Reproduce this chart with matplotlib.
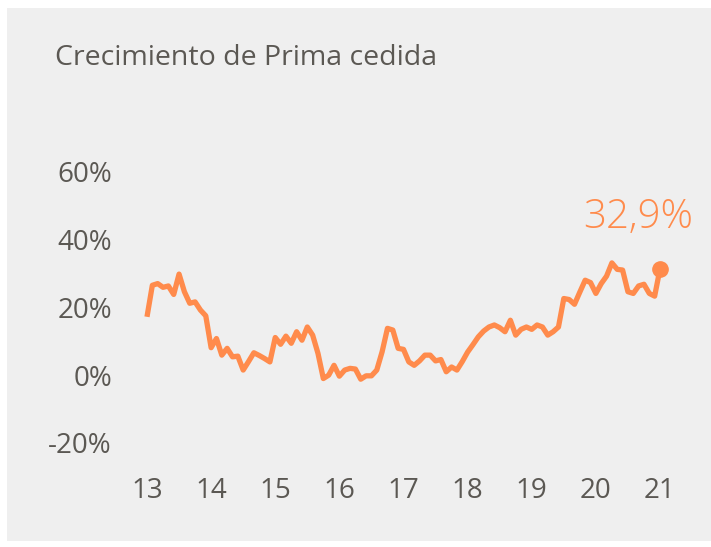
import matplotlib.pyplot as plt
from matplotlib.patches import Rectangle
import numpy as np

# monthly growth of ceded premium, Jan 2013 .. Jan 2021 (%)
growth = [17.2, 26.5, 27.0, 25.9, 26.3, 23.8, 29.8, 24.6, 21.2, 21.6, 19.2, 17.5,
          8.1, 10.8, 5.9, 7.9, 5.4, 5.6, 1.5, 4.0, 6.6, 5.8, 4.9, 3.9,
          11.1, 9.1, 11.5, 9.4, 12.8, 10.3, 14.2, 11.8, 6.4, -1.0, 0.0, 2.9,
          -0.3, 1.5, 2.0, 1.8, -1.2, -0.2, -0.2, 1.5, 6.9, 13.8, 13.3, 7.9,
          7.6, 3.9, 2.9, 4.2, 5.9, 5.9, 4.2, 4.6, 1.0, 2.4, 1.5, 4.0,
          6.8, 9.0, 11.3, 13.0, 14.2, 14.8, 14.0, 12.8, 16.2, 11.8, 13.5, 14.2,
          13.5, 14.8, 14.2, 11.8, 12.8, 14.2, 22.6, 22.3, 20.9, 24.5, 28.0, 27.3,
          24.1, 27.0, 29.2, 33.1, 31.2, 31.0, 24.6, 24.1, 26.3, 26.8, 24.1, 23.3,
          31.3]
years = 2013 + np.arange(len(growth)) / 12
year_ticks = list(range(2013, 2022))
year_labels = [str(y % 100) for y in year_ticks]
pct_ticks = [-20, 0, 20, 40, 60]
pct_labels = ["-20%", "0%", "20%", "40%", "60%"]
last_label = "32,9%"
title = "Crecimiento de Prima cedida"

orange = "#ff8b4c"
grey_txt = "#5b5853"
panel = "#efefef"

plt.rcParams['font.family'] = ['Open Sans', 'DejaVu Sans']

W, H = 711, 547
fig = plt.figure(figsize=(W / 100, H / 100), dpi=100)
fig.patch.set_facecolor("white")
bg = Rectangle((7 / W, 1 - 541 / H), 704 / W, 533 / H,
               transform=fig.transFigure, facecolor=panel,
               edgecolor="none", zorder=-10)
fig.add_artist(bg)

ax = fig.add_axes([130 / W, (H - 465) / H, 550 / W, 315 / H])
ax.set_zorder(5)
ax.set_facecolor("none")
ax.plot(years, growth, color=orange, lw=3.8, solid_joinstyle="round",
        solid_capstyle="butt")
ax.plot(years[-1], growth[-1], "o", color=orange, ms=11)
ax.annotate(last_label, xy=(years[-1], growth[-1]), xytext=(-16, 37),
            textcoords="offset points", ha="center", va="center",
            fontsize=29, color=orange, fontweight="light")

ax.set_xlim(2012.735, 2021.312)
ax.set_ylim(-26.5, 66.4)
ax.set_xticks(year_ticks)
ax.set_xticklabels(year_labels)
ax.set_yticks(pct_ticks)
ax.set_yticklabels(pct_labels)
ax.tick_params(axis="both", length=0, labelsize=20, labelcolor=grey_txt)
ax.tick_params(axis="x", pad=9)
ax.tick_params(axis="y", pad=13)
for s in ax.spines.values():
    s.set_visible(False)

fig.text(55 / W, 1 - 58 / H, title, ha="left", va="center",
         fontsize=20.5, color=grey_txt)

fig.savefig("out.png", dpi=100)
